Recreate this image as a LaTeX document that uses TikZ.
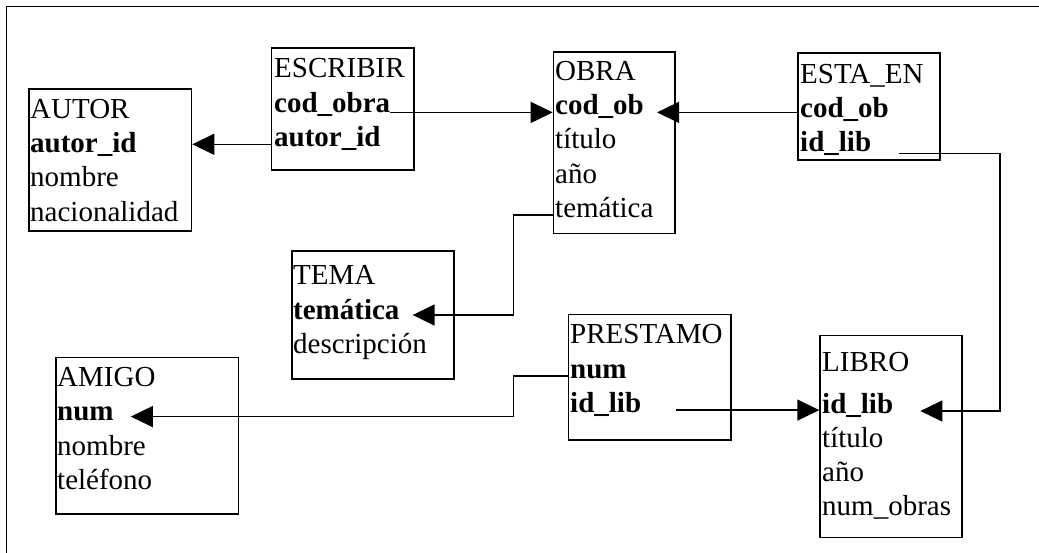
\documentclass[tikz,border=0pt]{standalone}
\usepackage{fontspec}
\setmainfont{Liberation Serif}
\usetikzlibrary{arrows.meta,calc}

\begin{document}
\begin{tikzpicture}[x=1pt,y=-1pt,
  table/.style={draw,line width=1.6pt,inner sep=0pt,anchor=north west},
  row/.style={anchor=base west,inner sep=0pt,font=\fontsize{29}{34}\selectfont},
  key/.style={row,font=\fontsize{29}{34}\selectfont\bfseries},
  link/.style={line width=1.5pt},
  ref/.style={link,-{Triangle[length=22pt,width=21pt]}}]

\useasboundingbox (0,0) rectangle (1039,553);
\clip (0,0) rectangle (1039,553);
\draw[line width=1.8pt] (6.5,6.5) rectangle (1060,580);

% tables (outlines)
\node[table,minimum width=162.7pt,minimum height=142pt] (autor) at (28,88) {};
\node[table,minimum width=142.6pt,minimum height=122pt] (escribir) at (270.7,47.3) {};
\node[table,minimum width=121.6pt,minimum height=181.7pt] (obra) at (552.7,51) {};
\node[table,minimum width=142pt,minimum height=107pt] (estaen) at (797.3,52.3) {};
\node[table,minimum width=162pt,minimum height=128.3pt] (tema) at (291,250) {};
\node[table,minimum width=182.7pt,minimum height=156.6pt] (amigo) at (55,356.7) {};
\node[table,minimum width=162.3pt,minimum height=125.6pt] (prestamo) at (567.7,313.7) {};
\node[table,minimum width=142pt,minimum height=202pt] (libro) at (819.3,334.7) {};

% AUTOR
\node[row] (autor-0) at (30,118.3) {AUTOR};
\node[key] (autor-1) at (30,152.6) {autor\_id};
\node[row] (autor-2) at (30,186.9) {nombre};
\node[row] (autor-3) at (30,221.2) {nacionalidad};

% ESCRIBIR
\node[row] (escribir-0) at (274,78) {ESCRIBIR};
\node[key] (escribir-1) at (274,112.3) {cod\_obra};
\node[key] (escribir-2) at (274,146.6) {autor\_id};

% OBRA
\node[row] (obra-0) at (555,80.5) {OBRA};
\node[key] (obra-1) at (555,114.7) {cod\_ob};
\node[row] (obra-2) at (555,148.9) {título};
\node[row] (obra-3) at (555,183.1) {año};
\node[row] (obra-4) at (555,217.3) {temática};

% ESTA_EN
\node[row] (estaen-0) at (800,83.3) {ESTA\_EN};
\node[key] (estaen-1) at (800,117.5) {cod\_ob};
\node[key] (estaen-2) at (800,151.7) {id\_lib};

% TEMA
\node[row] (tema-0) at (293,285) {TEMA};
\node[key] (tema-1) at (293,319.3) {temática};
\node[row] (tema-2) at (293,353.5) {descripción};

% AMIGO
\node[row] (amigo-0) at (57,386.7) {AMIGO};
\node[key] (amigo-1) at (57,420.9) {num};
\node[row] (amigo-2) at (57,455.1) {nombre};
\node[row] (amigo-3) at (57,489.3) {teléfono};

% PRESTAMO
\node[row] (prestamo-0) at (570,344) {PRESTAMO};
\node[key] (prestamo-1) at (570,378.2) {num};
\node[key] (prestamo-2) at (570,412.4) {id\_lib};

% LIBRO
\node[row] (libro-0) at (822,371) {LIBRO};
\node[key] (libro-1) at (822,413.3) {id\_lib};
\node[row] (libro-2) at (822,447.1) {título};
\node[row] (libro-3) at (822,481) {año};
\node[row] (libro-4) at (822,515) {num\_obras};

% foreign keys
\draw[ref] (escribir.west |- escribir-2.mid) -- (autor.east |- escribir-2.mid);
\draw[ref] (escribir-1.east |- obra-1.mid) -- (obra.west |- obra-1.mid);
\draw[ref] (estaen.west |- obra-1.mid) -- ($(obra-1.east |- obra-1.mid)+(13,0)$);
\coordinate (esta-out) at ($(estaen-2.mid east)+(28,4)$);
\coordinate (esta-turn) at (1000,0);
\draw[ref] (esta-out) -- (esta-turn |- esta-out) -- (esta-turn |- libro-1.mid)
  -- ($(libro-1.east |- libro-1.mid)+(27,0)$);
\coordinate (tema-turn) at (513.3,0);
\draw[ref] (obra.west |- obra-4.mid) -- (tema-turn |- obra-4.mid)
  -- ($(tema-turn |- tema-1.mid)+(0,-2)$) -- ($(tema-1.east |- tema-1.mid)+(13,-2)$);
\draw[ref] (prestamo.west |- prestamo-1.mid) -- (tema-turn |- prestamo-1.mid)
  -- ($(tema-turn |- amigo-1.mid)+(0,-2)$) -- ($(amigo-1.east |- amigo-1.mid)+(17,-2)$);
\draw[ref] ($(prestamo-2.east |- prestamo-2.mid)+(35,0)$) -- (libro.west |- prestamo-2.mid);

\end{tikzpicture}
\end{document}
